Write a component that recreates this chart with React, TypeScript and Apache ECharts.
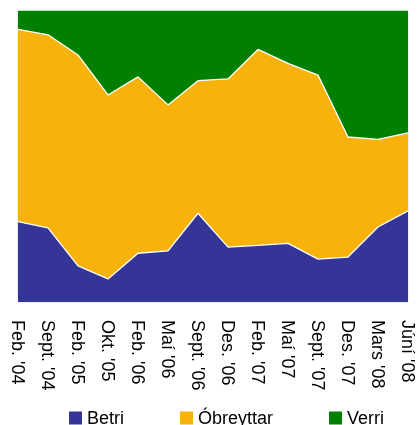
import React, { useEffect, useRef } from "react";
import * as echarts from "echarts";

const categories = ["Feb. '04", "Sept. '04", "Feb. '05", "Okt. '05", "Feb. '06", "Maí '06", "Sept. '06", "Des. '06", "Feb. '07", "Maí '07", "Sept. '07", "Des. '07", "Mars '08", "Júní '08"];
const betri = [27.5, 25.4, 12.4, 7.9, 16.7, 17.5, 30.4, 18.8, 19.4, 20.1, 14.7, 15.4, 25.7, 31.2];
const obreyttar = [65.9, 66.1, 72.2, 63.0, 60.4, 50.0, 45.4, 57.6, 67.1, 61.6, 63.0, 41.1, 30.0, 26.7];
const verri = [6.6, 8.5, 15.4, 29.1, 22.9, 32.5, 24.2, 23.6, 13.5, 18.3, 22.3, 43.5, 44.3, 42.1];

const FONT = "'Liberation Sans', Arial, sans-serif";

export default function App() {
  const ref = useRef<HTMLDivElement>(null);
  useEffect(() => {
    if (!ref.current) return;
    const chart = echarts.init(ref.current, undefined, { renderer: "svg" });
    const mk = (name: string, data: number[], color: string, z: number) => ({
      name,
      type: "line",
      stack: "total",
      data,
      symbol: "none",
      z,
      lineStyle: { color: "#ffffff", width: 1.3 },
      areaStyle: { color, opacity: 1 },
      itemStyle: { color },
    });
    chart.setOption({
      animation: false,
      textStyle: { fontFamily: FONT },
      grid: { left: 18, right: 9, top: 10, bottom: 123, show: true, borderColor: "#dcdcec", borderWidth: 1, backgroundColor: "transparent" },
      legend: {
        left: 69,
        top: 409,
        padding: 0,
        itemWidth: 13,
        itemHeight: 13,
        itemGap: 56,
        icon: "rect",
        textStyle: { fontSize: 18, color: "#000", fontFamily: FONT },
        data: ["Betri", "Óbreyttar", "Verri"],
      },
      xAxis: {
        type: "category",
        data: categories,
        boundaryGap: false,
        axisLine: { show: false },
        axisTick: { show: false },
        axisLabel: { rotate: -90, fontSize: 18, color: "#000", margin: 18, fontFamily: FONT, interval: 0 },
      },
      yAxis: {
        type: "value",
        min: 0,
        max: 100,
        show: false,
        splitLine: { show: false },
      },
      series: [
        mk("Betri", betri, "#353597", 4),
        mk("Óbreyttar", obreyttar, "#f7b20b", 3),
        mk("Verri", verri, "#007f00", 2),
      ],
    });
    return () => chart.dispose();
  }, []);
  return <div ref={ref} style={{ position: "fixed", left: 0, top: 0, width: 417, height: 425 }} />;
}
